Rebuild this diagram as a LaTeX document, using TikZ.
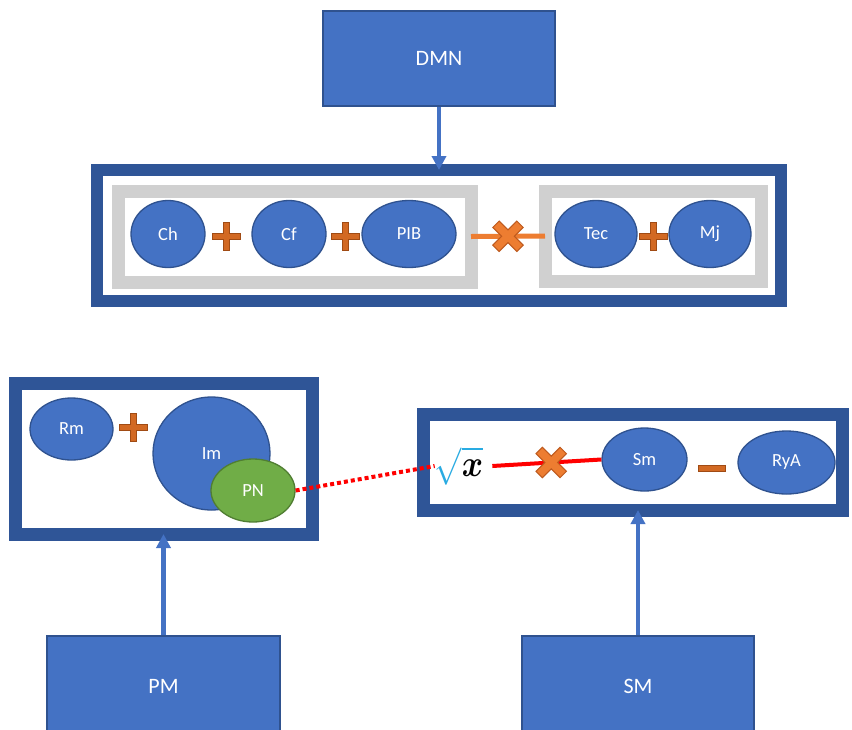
\documentclass[tikz,border=0pt]{standalone}
\usepackage{amsmath}
\usepackage{graphicx}
\usepackage{fontspec}
\setmainfont{Carlito}
\usepackage{tikz}
\usetikzlibrary{arrows.meta, shapes.geometric, positioning, calc}

\definecolor{boxblue}{RGB}{68,114,196}
\definecolor{boxline}{RGB}{47,82,143}
\definecolor{framebl}{RGB}{47,85,151}
\definecolor{grpgray}{RGB}{208,208,208}
\definecolor{leafgreen}{RGB}{112,173,71}
\definecolor{leafline}{RGB}{80,126,50}
\definecolor{plusfill}{RGB}{210,105,35}
\definecolor{plusline}{RGB}{160,75,20}
\definecolor{xfill}{RGB}{237,125,49}
\definecolor{xline}{RGB}{190,90,30}
\definecolor{sqrtblue}{RGB}{41,171,226}

\tikzset{
    plusmark/.pic={
        \filldraw[fill=plusfill, draw=plusline, line width=1pt]
            (-3,-14) -- (3,-14) -- (3,-3) -- (14,-3) -- (14,3) -- (3,3) -- (3,14)
            -- (-3,14) -- (-3,3) -- (-14,3) -- (-14,-3) -- (-3,-3) -- cycle;
    },
    xmark/.pic={
        \filldraw[fill=xfill, draw=xline, line width=1pt, rotate=45]
            (-4.5,-17) -- (4.5,-17) -- (4.5,-4.5) -- (17,-4.5) -- (17,4.5) -- (4.5,4.5) -- (4.5,17)
            -- (-4.5,17) -- (-4.5,4.5) -- (-17,4.5) -- (-17,-4.5) -- (-4.5,-4.5) -- cycle;
    }
}

\begin{document}
\begin{tikzpicture}[
    x=1pt, y=-1pt,
    % Styles
    srcbox/.style={rectangle, draw=boxline, line width=1.2pt, fill=boxblue, text=white, font=\fontsize{22}{26}\selectfont},
    frame/.style={rectangle, draw=framebl, fill=white, line width=13pt, outer sep=0pt},
    grp/.style={rectangle, draw=grpgray, line width=13pt, outer sep=0pt},
    elem/.style={ellipse, draw=boxline, line width=1.3pt, fill=boxblue, text=white, inner sep=0pt, font=\fontsize{18.5}{22}\selectfont},
    arrow/.style={-{Triangle[length=14pt, width=14pt]}, line width=4.5pt, draw=boxblue},
    minusbar/.style={rectangle, fill=plusfill, draw=plusline, line width=0.6pt, minimum width=27pt, minimum height=6pt, inner sep=0pt}
]
\useasboundingbox (0,0) rectangle (852,729);

% TOP
\node[srcbox, minimum width=232pt, minimum height=95pt] (dmn) at (439,58.5) {DMN};

\node[frame, line width=12pt, minimum width=684pt, minimum height=131pt] (topframe) at (439,235.5) {};
\node[grp, minimum width=353pt, minimum height=91pt] (grp1) at (294.5,236.5) {};
\node[grp, minimum width=216pt, minimum height=90pt] (grp2) at (653,236) {};

\node[elem, minimum width=74pt, minimum height=67pt] (ch) at (168,234) {Ch};
\node[elem, minimum width=74pt, minimum height=67pt] (cf) at (289,234) {Cf};
\node[elem, minimum width=94pt, minimum height=67pt] (pib) at (409,234) {PIB};
\node[elem, minimum width=82pt, minimum height=67pt] (tec) at (596,234) {Tec};
\node[elem, minimum width=82pt, minimum height=67pt] (mj) at (710,234) {Mj};

\pic at (226,236) {plusmark};
\pic at (345,236) {plusmark};
\pic at (653,236) {plusmark};

\draw[xfill, line width=5pt] (grp1.east) -- (grp2.west);
\pic at ($(grp1.east)!0.5!(grp2.west)$) {xmark};

% BOTTOM LEFT
\node[frame, minimum width=297pt, minimum height=151pt] (pmframe) at (163.5,458.5) {};
\node[elem, minimum width=83pt, minimum height=62pt] (rm) at (71.5,429) {Rm};
\node[elem, minimum width=117pt, minimum height=113pt] (im) at (211.5,453.5) {Im};
\node[elem, fill=leafgreen, draw=leafline, minimum width=84pt, minimum height=63pt] (pn) at (253,490.5) {PN};
\pic at (133,427) {plusmark};

% BOTTOM RIGHT
\node[frame, minimum width=419pt, minimum height=96pt] (smframe) at (632.5,462) {};
\node[inner sep=0pt, font=\fontsize{24}{28}\selectfont] (root) at (459,466) {\scalebox{1.3}[1.5]{\color{sqrtblue}$\sqrt{\mbox{\color{black}\boldmath$x$}}$}};
\node[elem, minimum width=85pt, minimum height=63pt] (sm) at (644.5,459.5) {Sm};
\node[elem, minimum width=97pt, minimum height=63pt] (rya) at (786.5,462.5) {RyA};
\node[minusbar] (minus) at (712,468) {};

\draw[red, line width=4pt, dash pattern=on 4pt off 3pt] (pn.east) -- (root.west);
\draw[red, line width=4pt] ([xshift=9pt]root.east) -- (sm.west);
\pic at ($([xshift=9pt]root.east)!0.54!(sm.west)$) {xmark};

% SOURCES
\node[srcbox, minimum width=233pt, minimum height=100pt] (pm) at (163.5,686) {PM};
\node[srcbox, minimum width=232pt, minimum height=100pt] (smsrc) at (638,686) {SM};

% ARROWS
\draw[arrow] (dmn.south) -- (topframe.north);
\draw[arrow] (pm.north) -- (pmframe.south);
\draw[arrow] (smsrc.north) -- (smsrc.north |- smframe.south);

\end{tikzpicture}
\end{document}
